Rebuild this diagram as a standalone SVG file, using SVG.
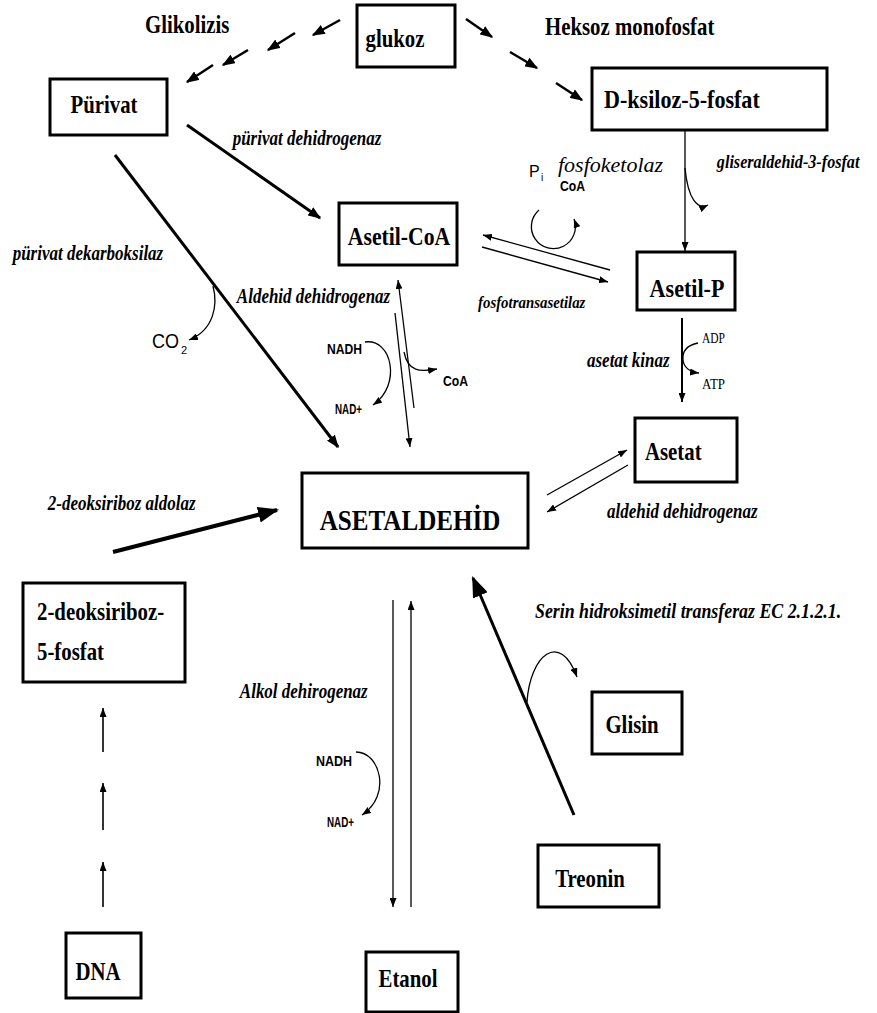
<svg xmlns="http://www.w3.org/2000/svg" width="877" height="1013" viewBox="0 0 877 1013">
<style>
.box{fill:#fff;stroke:#000;stroke-width:3}
.lbl{font-family:"Liberation Serif",serif;font-weight:bold;font-size:24.5px;fill:#000}
.enz{font-family:"Liberation Serif",serif;font-weight:bold;font-style:italic;font-size:20px;fill:#000}
.sm{font-family:"Liberation Sans",sans-serif;font-weight:bold;font-size:15px;fill:#000}
.sn{font-family:"Liberation Sans",sans-serif;fill:#000}
.sq{transform-box:fill-box;transform-origin:50% 50%;transform:scaleX(0.85)}
.sqL{transform-box:fill-box;transform-origin:0% 50%;transform:scaleX(0.85)}
.ln{fill:none;stroke:#000;stroke-width:1.3}
.md{fill:none;stroke:#000;stroke-width:2.5}
.tk{fill:none;stroke:#000;stroke-width:3}
</style>
<defs>
<marker id="a1" viewBox="0 0 10 10" refX="10" refY="5" markerWidth="9" markerHeight="7" markerUnits="userSpaceOnUse" orient="auto" preserveAspectRatio="none"><path d="M0,0 L10,5 L0,10 z"/></marker>
<marker id="a2" viewBox="0 0 10 10" refX="9" refY="5" markerWidth="13" markerHeight="10" markerUnits="userSpaceOnUse" orient="auto" preserveAspectRatio="none"><path d="M0,0 L10,5 L0,10 z"/></marker>
<marker id="a3" viewBox="0 0 10 10" refX="9" refY="5" markerWidth="21" markerHeight="16" markerUnits="userSpaceOnUse" orient="auto" preserveAspectRatio="none"><path d="M0,0 L10,5 L0,10 z"/></marker>
</defs>
<rect width="877" height="1013" fill="#fff"/>

<g id="connectors">
<!-- Glikolizis -->
<path class="md" d="M340 20 L313 35" marker-end="url(#a2)"/>
<path class="md" d="M295 33 L268 50" marker-end="url(#a2)"/>
<path class="md" d="M248 50 L223 65" marker-end="url(#a2)"/>
<path class="md" d="M213 65 L187 82" marker-end="url(#a2)"/>
<!-- Heksoz monofosfat -->
<path class="md" d="M466 19 L492 37" marker-end="url(#a2)"/>
<path class="md" d="M510 52 L537 68" marker-end="url(#a2)"/>
<path class="md" d="M556 83 L582 100" marker-end="url(#a2)"/>
<!-- Purivat -> Asetil-CoA -->
<path class="tk" d="M187 125 L320 218" marker-end="url(#a2)"/>
<!-- Purivat -> Asetaldehid -->
<path class="tk" d="M115 155 L338 447" marker-end="url(#a2)"/>
<path class="ln" d="M213 286 C218 305 214 330 189 340" marker-end="url(#a1)"/>
<!-- Asetil-CoA <-> Asetaldehid -->
<path class="ln" d="M414 408 L398 280" marker-end="url(#a1)"/>
<path class="ln" d="M395 313 L410 447" marker-end="url(#a1)"/>
<path class="ln" d="M365 342 C392 338 402 385 373 405" marker-end="url(#a1)"/>
<path class="ln" d="M404 352 C408 372 420 372 437 369" marker-end="url(#a1)"/>
<!-- Asetil-CoA <-> Asetil-P -->
<path class="ln" d="M610 270 L483 235" marker-end="url(#a1)"/>
<path class="ln" d="M482 247 L608 282" marker-end="url(#a1)"/>
<path class="ln" d="M539 210 A22 22 0 1 0 574 219" marker-end="url(#a1)"/>
<!-- D-ksiloz -> Asetil-P -->
<path class="ln" d="M685 130 L685 251" marker-end="url(#a1)"/>
<path class="ln" d="M685 168 C688 200 698 210 708 205" marker-end="url(#a1)"/>
<!-- Asetil-P -> Asetat -->
<path class="md" style="stroke-width:2" d="M682 318 L682 402" marker-end="url(#a1)"/>
<path class="ln" d="M698 343 C688 345 682 350 683 360 C684 368 690 372 699 373" marker-end="url(#a1)"/>
<!-- Asetaldehid <-> Asetat -->
<path class="ln" d="M547 495 L627 450" marker-end="url(#a1)"/>
<path class="ln" d="M628 465 L547 512" marker-end="url(#a1)"/>
<!-- 2-deoksiriboz aldolaz -->
<path class="tk" style="stroke-width:4" d="M113 552 L277 510" marker-end="url(#a3)"/>
<!-- Asetaldehid <-> Etanol -->
<path class="ln" d="M393 600 L393 907" marker-end="url(#a1)"/>
<path class="ln" d="M411 907 L411 601" marker-end="url(#a1)"/>
<path class="ln" d="M356 752 C380 752 392 795 362 815" marker-end="url(#a1)"/>
<!-- DNA -> 2-deoksiriboz-5-fosfat -->
<path class="ln" style="stroke-width:1.6" d="M103 752 L103 708" marker-end="url(#a1)"/>
<path class="ln" style="stroke-width:1.6" d="M103 830 L103 783" marker-end="url(#a1)"/>
<path class="ln" style="stroke-width:1.6" d="M103 907 L103 862" marker-end="url(#a1)"/>
<!-- Treonin -> Asetaldehid -->
<path class="tk" d="M574 815 L473 578" marker-end="url(#a3)"/>
<path class="ln" d="M527 702 C530 655 560 630 577 677" marker-end="url(#a1)"/>
</g>

<g id="labels">
<text class="lbl sqL" x="145" y="33">Glikolizis</text>
<text class="lbl sqL" x="545" y="35">Heksoz monofosfat</text>
<text class="enz sqL" x="233" y="145">pürivat dehidrogenaz</text>
<text class="enz sqL" x="13" y="260">pürivat dekarboksilaz</text>
<text class="enz sqL" x="237" y="303">Aldehid dehidrogenaz</text>
<text x="558" y="172" style="font-family:'Liberation Serif',serif;font-style:italic;font-size:22px">fosfoketolaz</text>
<text class="enz sqL" style="font-size:19px" x="717" y="168">gliseraldehid-3-fosfat</text>
<text class="enz sqL" style="font-size:17.5px" x="478" y="308">fosfotransasetilaz</text>
<text class="enz sqL" x="587" y="367">asetat kinaz</text>
<text class="enz sqL" x="607" y="518">aldehid dehidrogenaz</text>
<text class="enz sqL" x="48" y="510">2-deoksiriboz aldolaz</text>
<text class="enz sqL" style="font-size:21px" x="535" y="618">Serin hidroksimetil transferaz EC 2.1.2.1.</text>
<text class="enz sqL" x="240" y="698">Alkol dehirogenaz</text>
<text class="sn" x="152" y="348" textLength="27" lengthAdjust="spacingAndGlyphs" style="font-size:20px">CO</text>
<text class="sn" x="181" y="354" style="font-size:11px">2</text>
<text class="sn" x="529" y="177" style="font-size:16px">P</text>
<text class="sn" x="541" y="181" style="font-size:10px">i</text>
<text class="sm" x="560" y="191" textLength="25" lengthAdjust="spacingAndGlyphs">CoA</text>
<text class="sm" x="327" y="354" textLength="35" lengthAdjust="spacingAndGlyphs">NADH</text>
<text class="sm" x="335" y="414" textLength="27" lengthAdjust="spacingAndGlyphs">NAD+</text>
<text class="sm" x="443" y="386" textLength="25" lengthAdjust="spacingAndGlyphs">CoA</text>
<text x="702" y="343" textLength="23" lengthAdjust="spacingAndGlyphs" style="font-family:'Liberation Serif',serif;font-size:14px">ADP</text>
<text x="702" y="389" textLength="23" lengthAdjust="spacingAndGlyphs" style="font-family:'Liberation Serif',serif;font-size:14px">ATP</text>
<text class="sm" x="316" y="766" textLength="36" lengthAdjust="spacingAndGlyphs">NADH</text>
<text class="sm" x="327" y="827" textLength="27" lengthAdjust="spacingAndGlyphs">NAD+</text>
</g>

<g id="glukoz"><rect class="box" x="357" y="5" width="98" height="62"/><text class="lbl sq" x="395" y="47" text-anchor="middle">glukoz</text></g>
<g id="purivat"><rect class="box" x="50" y="79" width="117" height="56"/><text class="lbl sq" x="104" y="113" text-anchor="middle">Pürivat</text></g>
<g id="d-ksiloz-5-fosfat"><rect class="box" x="592" y="68" width="235" height="62"/><text class="lbl sqL" style="font-size:26px" x="604" y="108">D-ksiloz-5-fosfat</text></g>
<g id="asetil-coa"><rect class="box" x="339" y="203" width="118" height="62"/><text class="lbl sq" style="font-size:25.5px" x="399" y="245" text-anchor="middle">Asetil-CoA</text></g>
<g id="asetil-p"><rect class="box" x="637" y="252" width="98" height="58"/><text class="lbl sq" style="font-size:26px" x="687" y="297" text-anchor="middle">Asetil-P</text></g>
<g id="asetat"><rect class="box" x="635" y="418" width="102" height="64"/><text class="lbl sqL" x="645" y="460">Asetat</text></g>
<g id="asetaldehid"><rect class="box" x="302" y="473" width="226" height="75"/><text class="lbl sq" style="font-size:29.5px" x="410" y="530" text-anchor="middle">ASETALDEHİD</text></g>
<g id="deoksiriboz-5-fosfat"><rect class="box" x="23" y="583" width="162" height="99"/><text class="lbl sqL" x="37" y="620">2-deoksiriboz-</text><text class="lbl sqL" x="37" y="660">5-fosfat</text></g>
<g id="glisin"><rect class="box" x="592" y="692" width="90" height="62"/><text class="lbl sq" x="632" y="733" text-anchor="middle">Glisin</text></g>
<g id="treonin"><rect class="box" x="538" y="845" width="121" height="62"/><text class="lbl sq" x="590" y="887" text-anchor="middle">Treonin</text></g>
<g id="dna"><rect class="box" x="66" y="933" width="75" height="65"/><text class="lbl sq" x="98" y="980" text-anchor="middle">DNA</text></g>
<g id="etanol"><rect class="box" x="366" y="952" width="92" height="60"/><text class="lbl sq" x="408" y="987" text-anchor="middle">Etanol</text></g>
</svg>
